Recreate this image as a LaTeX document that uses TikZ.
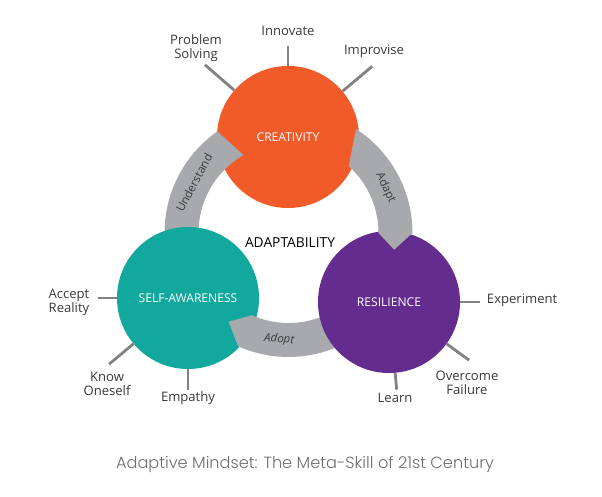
\documentclass[tikz,border=0pt]{standalone}
\usepackage{fontspec}
\setmainfont{Open Sans}
\newfontfamily\capfont{Poppins}[UprightFont=* Light]
\usepackage{tikz}
\usetikzlibrary{positioning, calc}
\definecolor{creaorange}{HTML}{F15A29}
\definecolor{selfteal}{HTML}{12A89D}
\definecolor{resilpurple}{HTML}{652C90}
\definecolor{bandgray}{HTML}{A7A9AC}
\definecolor{spokegray}{HTML}{808285}
\definecolor{txtdark}{HTML}{3A3A3C}
\definecolor{captiongray}{HTML}{6D6E71}
\tikzset{
  skill/.style={circle, minimum size=3.55cm, inner sep=0pt, text=white, font=\fontsize{8.6}{10}\selectfont},
  band/.style={fill=bandgray},
  spoke/.style={draw=spokegray, line width=2pt},
  lbl/.style={text=txtdark, align=center, font=\fontsize{9.3}{10}\selectfont},
  bandlbl/.style={text=txtdark, font=\fontsize{8.2}{9}\selectfont},
}

\begin{document}
\begin{tikzpicture}[x=0.025cm, y=0.025cm]
  \useasboundingbox (0,0) rectangle (602,497);
  \coordinate (O) at (288.5,264);
  % circulos y bandas, en orden de superposicion
  \node[skill, fill=creaorange] (crea) at (288,360) {CREATIVITY};
  \fill[band] ($(O)+(125:124)$) arc[start angle=125, end angle=200, radius=124]
    -- ($(O)+(200:90)$) arc[start angle=200, end angle=120, radius=90] -- cycle;
  \node[skill, fill=selfteal] (selfaw) at (188,199) {SELF-AWARENESS};
  \fill[band] ($(O)+(236:107)$) -- ($(O)+(246:124)$) arc[start angle=246, end angle=330, radius=124]
    -- ($(O)+(330:90)$) arc[start angle=330, end angle=246, radius=90] -- cycle;
  \node[skill, fill=resilpurple] (resil) at (389,195) {RESILIENCE};
  \fill[band] ($(O)+(57:124)$) arc[start angle=57, end angle=0, radius=124]
    -- ($(O)+(-9:107)$) -- ($(O)+(0:90)$) arc[start angle=0, end angle=48, radius=90] -- cycle;

  % textos de las bandas
  \node[bandlbl, rotate=62] (und) at ($(O)+(152:107)$) {Understand};
  \node[bandlbl, rotate=-65] (adp) at ($(O)+(25:107)$) {Adapt};
  \node[bandlbl, rotate=-5, font=\fontsize{8.2}{9}\selectfont\itshape] (adpt) at ($(O)+(265:107)$) {Adopt};
  \node[text=black, font=\fontsize{9.8}{11}\selectfont] (adapt) at (290,254) {ADAPTABILITY};

  % radios
  \foreach \c/\a/\r [count=\i] in {crea/139/110, crea/90/91, crea/40/110,
      selfaw/180/90, selfaw/220/103, selfaw/270/92,
      resil/0/91, resil/324/99, resil/275/88} {
    \coordinate (sp\i) at ($(\c)+(\a:\r)$);
    \draw[spoke] (\c.\a) -- (sp\i);
  }
  \node[lbl] (psolv) at (196,449) {Problem\\Solving};
  \node[lbl] (innov) at (288,466) {Innovate};
  \node[lbl] (impro) at (374,446) {Improvise};
  \node[lbl] (accre) at (69,195) {Accept\\Reality};
  \node[lbl] (knows) at (107,113) {Know\\Oneself};
  \node[lbl] (empat) at (188,99) {Empathy};
  \node[lbl, anchor=west] (exper) at (482,197) {Experiment};
  \node[lbl] (overf) at (467,114) {Overcome\\Failure};
  \node[lbl] (learn) at (395,99) {Learn};

  \node[text=captiongray, font=\capfont\fontsize{11.5}{13}\selectfont] (capt) at (305,33) {Adaptive Mindset: The Meta-Skill of 21st Century};
\end{tikzpicture}
\end{document}
